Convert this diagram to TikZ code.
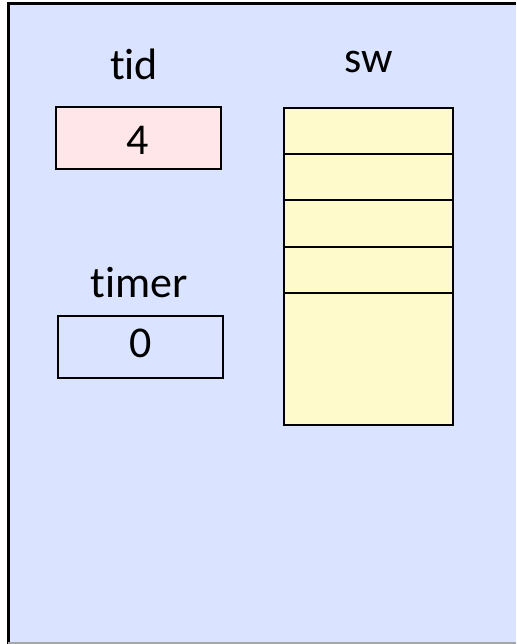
\documentclass[tikz,border=0pt]{standalone}
\usepackage{fontspec}
\setmainfont[Ligatures=NoCommon]{Carlito}
\definecolor{FrameBlue}{RGB}{218,227,255}
\definecolor{CellPink}{RGB}{255,231,233}
\definecolor{CellYellow}{RGB}{255,250,204}
\usetikzlibrary{positioning}

\begin{document}
\begin{tikzpicture}[x=1pt, y=-1pt, font=\fontsize{44}{52}\selectfont,
    varbox/.style={draw, line width=2pt, minimum width=165pt, minimum height=62pt, inner sep=0pt},
    slot/.style={draw, line width=2pt, fill=CellYellow, minimum width=169pt, minimum height=46.25pt, inner sep=0pt, outer sep=0pt}]
  \useasboundingbox (0,0) rectangle (516,644);
  % frame of the thread's locals
  \fill[FrameBlue] (8,4) rectangle (516,644);
  \draw[line width=3pt] (8,644) -- (8,4) -- (516,4);
  \draw[black!35, line width=1.5pt] (8,643) -- (516,643);

  % scalar variables
  \node[varbox, fill=CellPink] (tidbox) at (138,138) {};
  \node[anchor=base] (tidval) at (tidbox.center |- 0,155) {4};
  \node[anchor=base] (tidlabel) at (134,80) {tid};
  \node[varbox] (timerbox) at (140.5,347) {};
  \node[anchor=base] (timerval) at (timerbox.center |- 0,357) {0};
  \node[anchor=base] (timerlabel) at (139,297) {timer};

  % the sw array
  \node[anchor=base] (swlabel) at (369,73) {sw};
  \node[slot, anchor=north] (sw1) at (368.5,108) {};
  \foreach \i [remember=\i as \j (initially 1)] in {2,3,4}
    \node[slot, below=0pt of sw\j] (sw\i) {};
  \node[slot, minimum height=132pt, below=0pt of sw4] (swrest) {};
\end{tikzpicture}
\end{document}
